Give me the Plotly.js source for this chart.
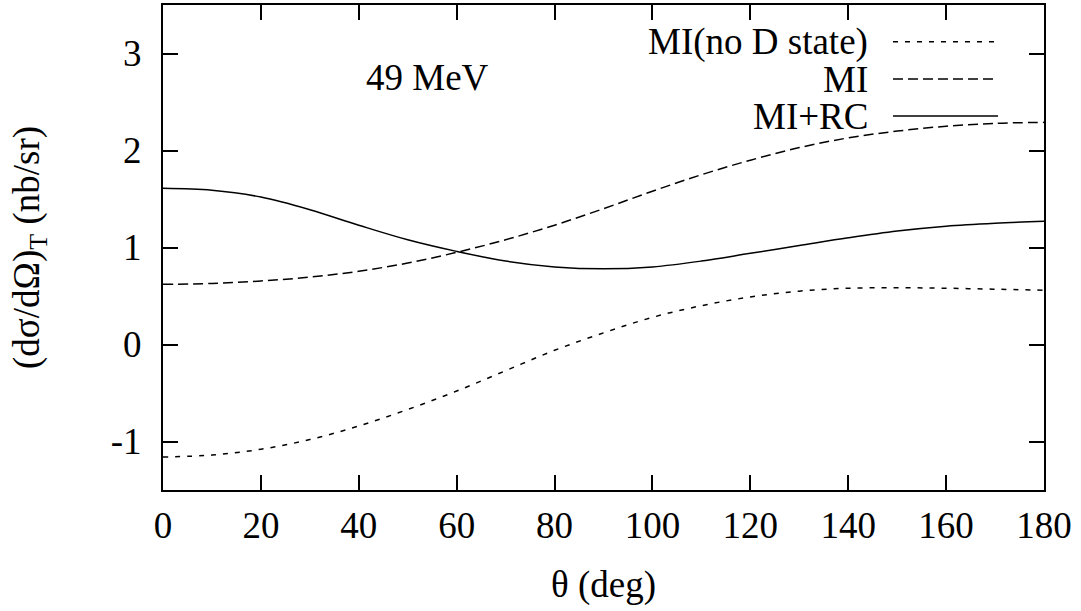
<!DOCTYPE html>
<html>
<head>
<meta charset="utf-8">
<script src="https://cdn.plot.ly/plotly-3.0.1.min.js"></script>
<style>html,body{margin:0;padding:0;background:#fff;}#plot{width:1081px;height:611px;}</style>
</head>
<body>
<div id="plot"></div>
<script>
// angles in degrees
const theta = [0,10,20,30,40,50,60,70,80,90,100,110,120,130,140,150,160,170,180];
// MI (no D state)
const miNoD = [-1.16,-1.14,-1.08,-0.98,-0.84,-0.67,-0.48,-0.27,-0.06,0.12,0.28,0.40,0.49,0.55,0.58,0.585,0.58,0.57,0.56];
// MI
const mi = [0.62,0.63,0.655,0.695,0.755,0.84,0.95,1.08,1.23,1.40,1.58,1.75,1.90,2.03,2.13,2.20,2.25,2.28,2.29];
// MI+RC
const miRc = [1.61,1.59,1.52,1.39,1.23,1.08,0.96,0.86,0.80,0.78,0.80,0.86,0.94,1.02,1.10,1.17,1.22,1.25,1.27];

const seriesNames = ["MI(no D state)", "MI", "MI+RC"];
const xTicks = [0,20,40,60,80,100,120,140,160,180];
const yTicks = [-1,0,1,2,3];
const yTickText = ["-1","0","1","2","3"];

const FONT = "'Liberation Serif', 'Times New Roman', Times, serif";
const FS = 37;
const dashes = ["5px,7px", "10px,5px", "solid"];

const traces = [miNoD, mi, miRc].map((ys, i) => ({
  x: theta, y: ys, type: "scatter", mode: "lines", name: seriesNames[i],
  line: {color: "#000", width: 1.5, dash: dashes[i], shape: "spline", smoothing: 1.0},
  showlegend: false, hoverinfo: "skip"
}));

// legend drawn gnuplot-style: right-aligned text, sample line to its right
const legY = [0.9243, 0.8474, 0.7711];
const annotations = seriesNames.map((n, i) => ({
  xref: "paper", yref: "paper", x: 0.8025, y: legY[i], xanchor: "right", yanchor: "middle",
  text: n, showarrow: false, font: {family: FONT, size: FS, color: "#000"}
}));
annotations.push({
  xref: "paper", yref: "paper", x: 0.2997, y: 0.8515, xanchor: "center", yanchor: "middle",
  text: "49 MeV", showarrow: false, font: {family: FONT, size: FS, color: "#000"}
});
const shapes = seriesNames.map((n, i) => ({
  type: "line", xref: "paper", yref: "paper", x0: 0.8286, x1: 0.9478, y0: legY[i], y1: legY[i],
  line: {color: "#000", width: 1.5, dash: dashes[i]}
}));

const axisCommon = {
  showline: true, linecolor: "#000", linewidth: 2, mirror: "allticks",
  ticks: "inside", ticklen: 15, tickwidth: 2, tickcolor: "#000",
  showgrid: false, zeroline: false,
  tickfont: {family: FONT, size: FS, color: "#000"}
};

const layout = {
  width: 1081, height: 611,
  margin: {l: 163, r: 37, t: 5, b: 121},
  paper_bgcolor: "#fff", plot_bgcolor: "#fff",
  font: {family: FONT, color: "#000"},
  xaxis: Object.assign({}, axisCommon, {
    range: [0, 180], tickmode: "array", tickvals: xTicks, ticktext: xTicks.map(String),
    ticklabelstandoff: 2,
    title: {text: "θ (deg)", font: {family: FONT, size: FS, color: "#000"}, standoff: 26}
  }),
  yaxis: Object.assign({}, axisCommon, {
    range: [-1.5, 3.5], tickmode: "array", tickvals: yTicks, ticktext: yTickText,
    ticklabelstandoff: 12,
    title: {text: "(dσ/dΩ)<sub>T</sub> (nb/sr)", font: {family: FONT, size: FS, color: "#000"}, standoff: 60}
  }),
  annotations: annotations,
  shapes: shapes,
  showlegend: false
};

Plotly.newPlot("plot", traces, layout, {staticPlot: true, displayModeBar: false});
</script>
</body>
</html>
